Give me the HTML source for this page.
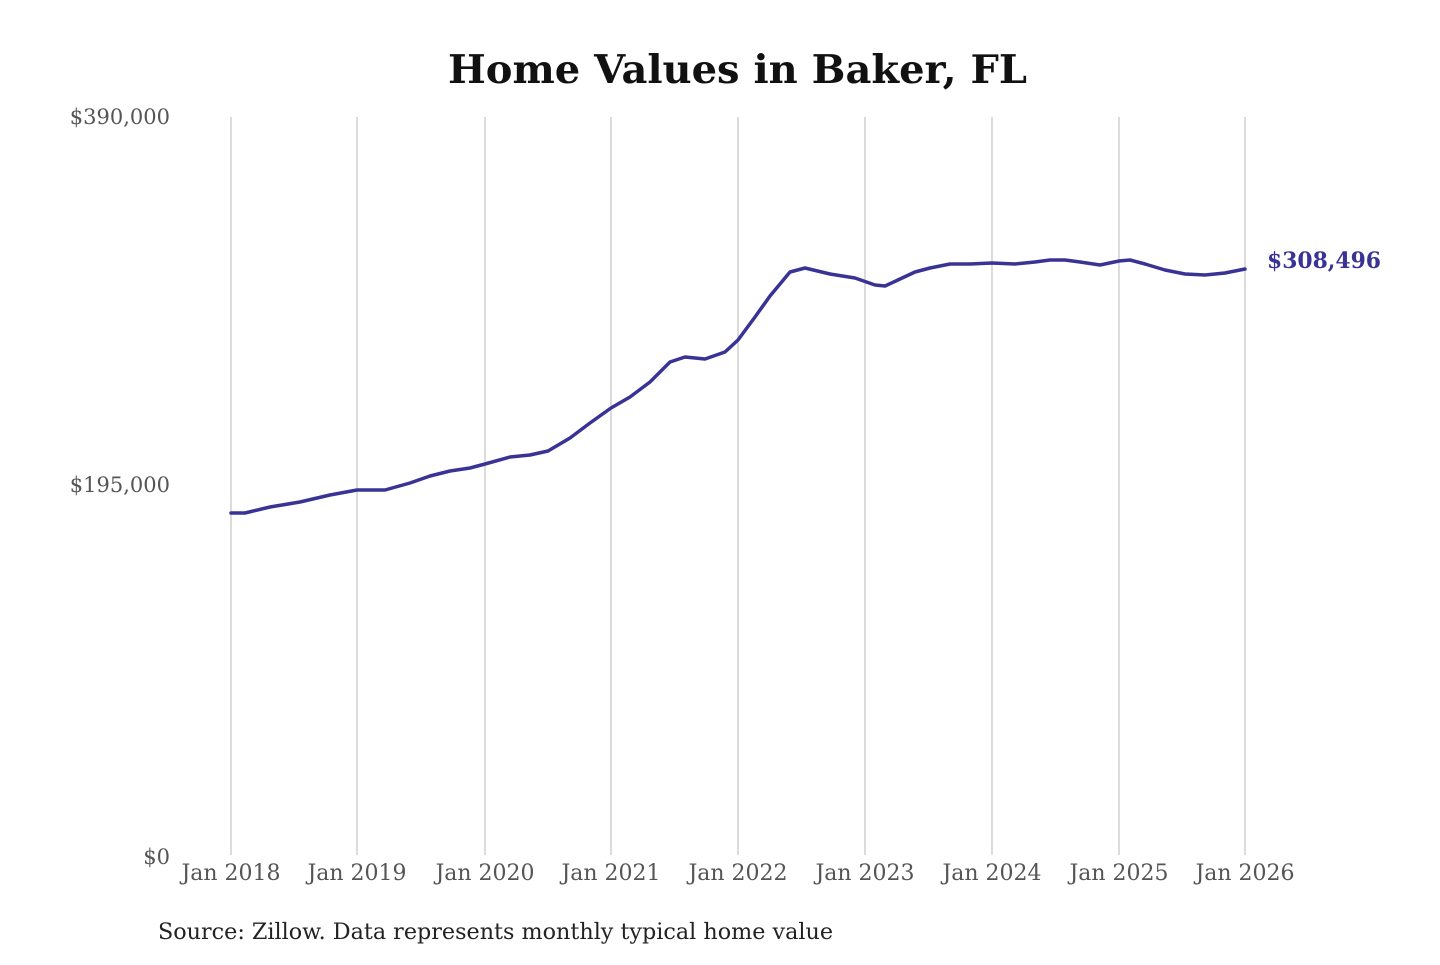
<!DOCTYPE html>
<html><head><style>
body{margin:0;background:#fff;}
svg text{font-family:"DejaVu Serif","Liberation Serif",serif;}
</style></head><body>
<svg width="1440" height="960" viewBox="0 0 1440 960" xmlns="http://www.w3.org/2000/svg">
<rect width="1440" height="960" fill="#fff"/>
<text x="448" y="83" font-size="39" font-weight="bold" fill="#111" textLength="579" lengthAdjust="spacingAndGlyphs">Home Values in Baker, FL</text>
<g stroke="#c8c8c8" stroke-width="1.3">
<line x1="231" y1="117" x2="231" y2="855"/><line x1="357" y1="117" x2="357" y2="855"/>
<line x1="485" y1="117" x2="485" y2="855"/><line x1="611" y1="117" x2="611" y2="855"/>
<line x1="738" y1="117" x2="738" y2="855"/><line x1="865" y1="117" x2="865" y2="855"/>
<line x1="992" y1="117" x2="992" y2="855"/><line x1="1119" y1="117" x2="1119" y2="855"/>
<line x1="1245" y1="117" x2="1245" y2="855"/>
</g>
<g font-size="21" fill="#555" text-anchor="end">
<text x="170" y="124">$390,000</text>
<text x="170" y="492">$195,000</text>
<text x="170" y="864">$0</text>
</g>
<g font-size="22" fill="#555" text-anchor="middle">
<text x="231" y="880">Jan 2018</text><text x="357" y="880">Jan 2019</text>
<text x="485" y="880">Jan 2020</text><text x="611" y="880">Jan 2021</text>
<text x="738" y="880">Jan 2022</text><text x="865" y="880">Jan 2023</text>
<text x="992" y="880">Jan 2024</text><text x="1119" y="880">Jan 2025</text>
<text x="1245" y="880">Jan 2026</text>
</g>
<polyline fill="none" stroke="#3a3396" stroke-width="3.5" stroke-linejoin="round" stroke-linecap="round" points="231,513 245,513 270,507 300,502 330,495 357,490 385,490 410,483 430,476 450,471 470,468 485,464 510,457 530,455 548,451 570,438 590,423 611,408 630,397 650,382 670,362 685,357 705,359 725,352 738,340 755,317 770,296 790,272 805,268 830,274 855,278 875,285 885,286 900,279 915,272 930,268 950,264 970,264 992,263 1015,264 1035,262 1050,260 1065,260 1080,262 1100,265 1119,261 1130,260 1145,264 1165,270 1185,274 1205,275 1225,273 1245,269"/>
<text x="1267" y="268" font-size="22" font-weight="bold" fill="#3a3396" textLength="114" lengthAdjust="spacingAndGlyphs">$308,496</text>
<text x="158" y="939" font-size="22" fill="#222" textLength="675" lengthAdjust="spacingAndGlyphs">Source: Zillow. Data represents monthly typical home value</text>
</svg>
</body></html>
